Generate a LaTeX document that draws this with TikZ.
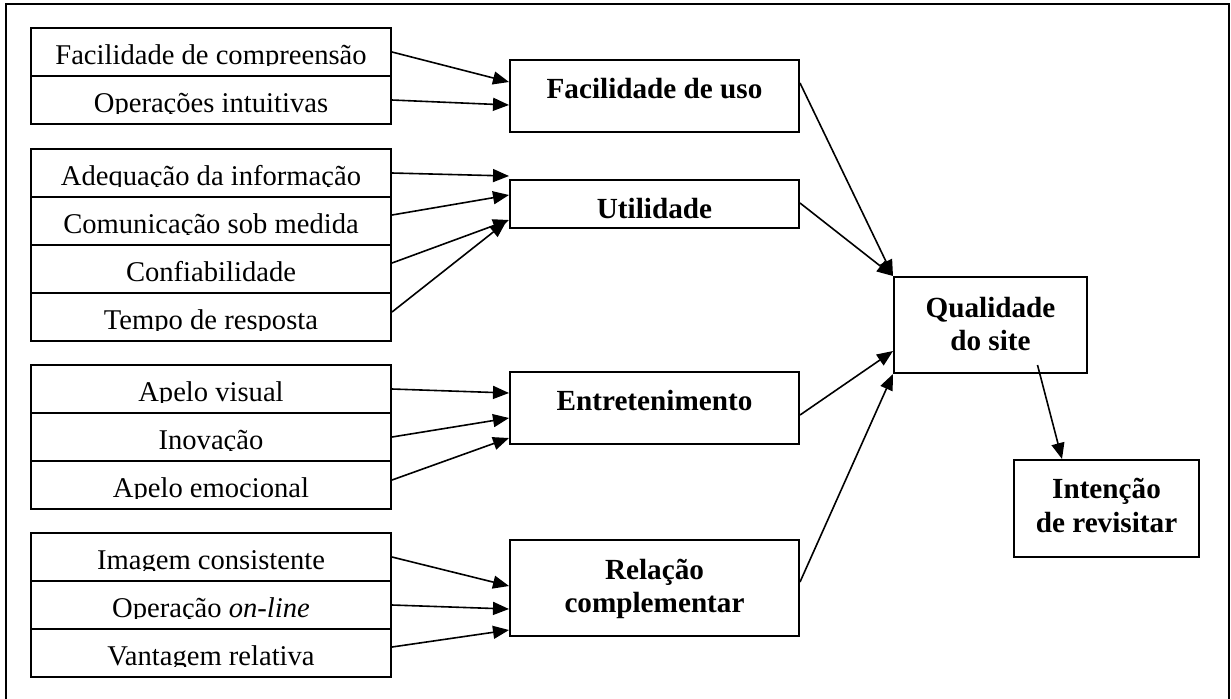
\documentclass[tikz,border=0pt]{standalone}
\usepackage{fontspec}
\setmainfont{Liberation Serif}
\usetikzlibrary{calc,arrows.meta}
\newcommand\myrow[3]{%
  \node[rowbox] (#1) at (211,#2) {};
  \begin{scope}
    \clip (31,{#2-24}) rectangle (391,{#2+13.8});
    \node[rowtxt] at (211,{#2+12.8}) {#3};
  \end{scope}}
\begin{document}
\begin{tikzpicture}[x=0.5pt,y=-0.5pt,
  rowbox/.style={draw,line width=1pt,minimum width=180pt,minimum height=24pt,inner sep=0pt},
  midbox/.style={draw,line width=1pt,minimum width=144.5pt,inner sep=0pt},
  rowtxt/.style={anchor=base,inner sep=0pt,font=\fontsize{14.3}{17}\selectfont},
  boldtxt/.style={anchor=base,inner sep=0pt,font=\fontsize{14.6}{17}\selectfont\bfseries},
  arr/.style={line width=0.8pt,-{Triangle[length=8pt,width=6.5pt]}},
]
\useasboundingbox (0,0) rectangle (1231,698);
% outer frame
\draw[line width=1pt] (6,710) -- (6,4) -- (1229,4) -- (1229,710);

% left rows
\myrow{r1}{52}{Facilidade de compreensão}
\myrow{r2}{100}{Operações intuitivas}
\myrow{r3}{173}{Adequação da informação}
\myrow{r4}{221}{Comunicação sob medida}
\myrow{r5}{269}{Confiabilidade}
\myrow{r6}{317}{Tempo de resposta}
\myrow{r7}{389}{Apelo visual}
\myrow{r8}{437}{Inovação}
\myrow{r9}{485}{Apelo emocional}
\myrow{r10}{557}{Imagem consistente}
\myrow{r11}{605}{Operação \textit{on-line}}
\myrow{r12}{653}{Vantagem relativa}

% middle boxes
\node[midbox,minimum height=36pt] (fu) at (654.5,96) {};
\node[boldtxt] at (654.5,98) {Facilidade de uso};
\node[midbox,minimum height=24pt] (ut) at (654.5,204) {};
\node[boldtxt] at (654.5,218) {Utilidade};
\node[midbox,minimum height=36pt] (en) at (654.5,408) {};
\node[boldtxt] at (654.5,410) {Entretenimento};
\node[midbox,minimum height=48pt] (rc) at (654.5,588) {};
\node[boldtxt] at (654.5,579) {Relação};
\node[boldtxt] at (654.5,612) {complementar};

% right boxes
\node[draw,line width=1pt,inner sep=0pt,minimum width=96.5pt,minimum height=48pt] (qs) at (990.5,325) {};
\node[boldtxt] at (990.5,317) {Qualidade};
\node[boldtxt] at (990.5,350) {do site};
\node[draw,line width=1pt,inner sep=0pt,minimum width=92.5pt,minimum height=48.5pt] (ir) at (1106.5,508.5) {};
\node[boldtxt] at (1106.5,498) {Intenção};
\node[boldtxt] at (1106.5,532) {de revisitar};

% arrows into Facilidade de uso
\draw[arr] (r1.east) -- ($(fu.west)+(0,-14)$);
\draw[arr] (r2.east) -- ($(fu.west)+(0,9)$);
% arrows into Utilidade
\draw[arr] (r3.east) -- ($(ut.west)+(0,-28)$);
\draw[arr] ($(r4.east)+(0,-6)$) -- ($(ut.west)+(0,-9)$);
\draw[arr] ($(r5.east)+(0,-6)$) -- ($(ut.west)+(0,16)$);
\draw[arr] ($(r6.east)+(0,-5)$) -- ($(ut.west)+(-3,18)$);
% arrows into Entretenimento
\draw[arr] (r7.east) -- ($(en.west)+(0,-15)$);
\draw[arr] (r8.east) -- ($(en.west)+(0,10)$);
\draw[arr] ($(r9.east)+(0,-5)$) -- ($(en.west)+(0,30)$);
% arrows into Relacao complementar
\draw[arr] (r10.east) -- ($(rc.west)+(0,-2)$);
\draw[arr] (r11.east) -- ($(rc.west)+(0,21)$);
\draw[arr] ($(r12.east)+(0,-6)$) -- ($(rc.west)+(0,42)$);

% arrows into Qualidade do site
\draw[arr] ($(fu.east)+(0,-13)$) -- (qs.north west);
\draw[arr] ($(ut.east)+(0,-1)$) -- (qs.north west);
\draw[arr] ($(en.east)+(0,7)$) -- ($(qs.west)+(0,26)$);
\draw[arr] ($(rc.east)+(0,-6)$) -- (qs.south west);
% Qualidade -> Intencao
\draw[arr] ($(qs.south)+(47,-9)$) -- ($(ir.north west)+(49,0)$);
\end{tikzpicture}
\end{document}
